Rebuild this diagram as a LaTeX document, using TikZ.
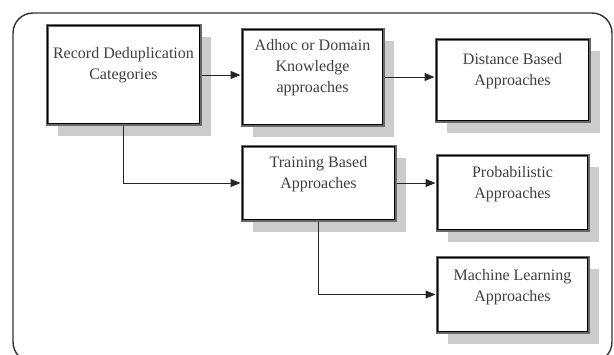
\documentclass[tikz,border=0pt]{standalone}
\usepackage{fontspec}
\setmainfont{Liberation Serif}
\usetikzlibrary{arrows.meta}
\definecolor{txt}{HTML}{3F3F3F}
\definecolor{bord}{HTML}{686868}
\tikzset{
  box/.style={rectangle, draw=bord, line width=3pt, fill=white,
    minimum width=#1, inner sep=0pt,
    preaction={fill=gray!40, transform canvas={shift={(11pt,-12pt)}}}},
  lbl/.style={anchor=north, text=txt, font=\fontsize{16}{21}\selectfont, align=center, inner sep=0pt},
  inner/.style={draw=black, line width=0.7pt},
  conn/.style={draw=black!85, line width=1pt, -{Triangle[length=10pt,width=8pt]}},
  frame/.style={draw=black!80, line width=1.4pt, rounded corners=20pt}
}
\begin{document}
\begin{tikzpicture}[x=1pt,y=-1pt]
\useasboundingbox (0,0) rectangle (614,354);
\begin{scope}
\clip (0,0) rectangle (614,354);
\draw[frame] (13,13) rectangle (612,362);
\end{scope}
% boxes
\node[box=153pt, minimum height=99pt] (R) at (123.5,74.5) {};
\node[box=141pt, minimum height=96pt] (A) at (312.5,77) {};
\node[box=153pt, minimum height=82pt] (D) at (512.5,80) {};
\node[box=153pt, minimum height=74pt] (T) at (318.5,183) {};
\node[box=151pt, minimum height=75pt] (P) at (512.5,192.5) {};
\node[box=151pt, minimum height=75pt] (M) at (512.5,294.5) {};
\foreach \n in {R,A,D,T,P,M}{
  \draw[inner] ([shift={(2.3pt,-2.3pt)}]\n.north west) rectangle ([shift={(-2.3pt,2.3pt)}]\n.south east);
}
% labels
\node[lbl] (Rt) at ([yshift=-24pt]R.north) {Record Deduplication\\Categories};
\node[lbl] (At) at ([yshift=-12pt]A.north) {Adhoc or Domain\\Knowledge\\approaches};
\node[lbl] (Dt) at ([yshift=-16pt]D.north) {Distance Based\\Approaches};
\node[lbl] (Tt) at ([yshift=-12pt]T.north) {Training Based\\Approaches};
\node[lbl] (Pt) at ([yshift=-13pt]P.north) {Probabilistic\\Approaches};
\node[lbl] (Mt) at ([yshift=-14pt]M.north) {Machine Learning\\Approaches};
% connectors
\draw[conn] (R.east |- 0,75) -- (A.west |- 0,75);
\draw[conn] (A.east |- 0,77) -- (D.west |- 0,77);
\draw[conn] (R.south -| 123,0) |- (T.west);
\draw[conn] (T.east) -- (P.west |- T.east);
\draw[conn] (T.south -| 318,0) |- (M.west);
\end{tikzpicture}
\end{document}
